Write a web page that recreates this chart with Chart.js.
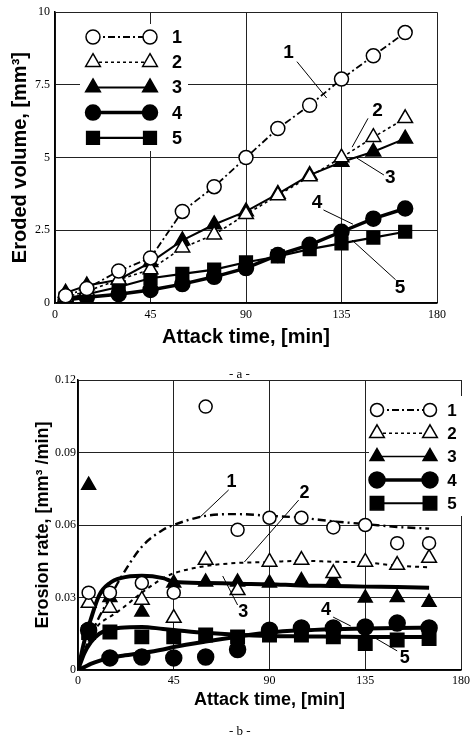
<!DOCTYPE html>
<html>
<head>
<meta charset="UTF-8" />
<title>Erosion - volume and rate</title>
<script src="https://cdn.jsdelivr.net/npm/chart.js"></script>
<style>
  body { margin: 0; background: #fff; width: 474px; height: 738px; position: relative; overflow: hidden; }
  .panel { position: absolute; left: 0; width: 474px; }
  .cap { position: absolute; font-family: "Liberation Serif", serif; font-size: 13px; color: #000; }
</style>
</head>
<body>
<div class="panel" style="top:0;height:368px"><canvas id="volChart" width="474" height="368"></canvas></div>
<div class="panel" style="top:368px;height:370px"><canvas id="rateChart" width="474" height="370"></canvas></div>
<div class="cap" style="left:229px;top:366px">- a -</div>
<div class="cap" style="left:229px;top:723px">- b -</div>

<script>
// --- data ---
const seriesNames = ['1', '2', '3', '4', '5'];
const attackTime = [5, 15, 30, 45, 60, 75, 90, 105, 120, 135, 150, 165];
const timeTicks = [0, 45, 90, 135, 180];
const volumeTicks = [0, 2.5, 5, 7.5, 10];
const rateTicks = [0, 0.03, 0.06, 0.09, 0.12];

// (a) eroded volume, mm3
const volume1 = [0.25, 0.5, 1.1, 1.55, 3.15, 4.0, 5.0, 6.0, 6.8, 7.7, 8.5, 9.3];
const volume2 = [0.2, 0.4, 0.8, 1.15, 1.9, 2.35, 3.05, 3.7, 4.35, 5.0, 5.7, 6.35];
const volume3 = [0.35, 0.6, 0.8, 1.4, 2.15, 2.7, 3.15, 3.75, 4.4, 4.85, 5.2, 5.65];
const volume4 = [0.1, 0.2, 0.3, 0.45, 0.65, 0.9, 1.2, 1.65, 2.0, 2.45, 2.9, 3.25];
const volume5 = [0.15, 0.3, 0.55, 0.85, 1.0, 1.15, 1.4, 1.6, 1.85, 2.05, 2.25, 2.45];

// (b) erosion rate, mm3/min (measured points)
const rate1 = [0.032, 0.032, 0.036, 0.032, 0.109, 0.058, 0.063, 0.063, 0.059, 0.06, 0.0525, 0.0525];
const rate2 = [0.0277, 0.0257, 0.029, 0.0215, 0.0455, 0.033, 0.0447, 0.0455, 0.04, 0.0447, 0.0434, 0.0463];
const rate3 = [0.0765, 0.03, 0.024, 0.036, 0.0364, 0.0364, 0.036, 0.037, 0.037, 0.0298, 0.03, 0.028];
const rate4 = [0.0165, 0.005, 0.0054, 0.005, 0.0054, 0.0085, 0.0165, 0.0174, 0.0174, 0.0178, 0.0194, 0.0174];
const rate5 = [0.0155, 0.0157, 0.0137, 0.0137, 0.0145, 0.0137, 0.0145, 0.0145, 0.0137, 0.011, 0.0124, 0.013];

// (b) fitted curves
const fitTime = [0, 3, 6, 10, 15, 20, 30, 40, 45, 60, 75, 90, 105, 120, 135, 150, 165];
const fit1 = [0, 0.007, 0.014, 0.022, 0.03, 0.038, 0.051, 0.058, 0.06, 0.0638, 0.0645, 0.0638, 0.063, 0.0615, 0.0604, 0.0592, 0.0585];
const fit2 = [0, 0.008, 0.014, 0.019, 0.022, 0.025, 0.032, 0.038, 0.04, 0.043, 0.0443, 0.0447, 0.0452, 0.0448, 0.0445, 0.0432, 0.0425];
const fit3 = [0, 0.012, 0.021, 0.031, 0.036, 0.038, 0.039, 0.038, 0.0365, 0.036, 0.0357, 0.0355, 0.035, 0.0348, 0.0345, 0.0343, 0.034];
const fit4 = [0, 0.0012, 0.0025, 0.0038, 0.005, 0.0058, 0.007, 0.0085, 0.0095, 0.0118, 0.0138, 0.0155, 0.0164, 0.0169, 0.0172, 0.0174, 0.0175];
const fit5 = [0, 0.007, 0.0115, 0.015, 0.0168, 0.0175, 0.0178, 0.017, 0.0166, 0.0154, 0.0146, 0.0141, 0.0139, 0.0138, 0.0137, 0.0137, 0.0137];

// --- styles ---
const topMarks = [
  { pointStyle: 'circle', fill: '#fff', r: 7 },
  { pointStyle: 'triangle', fill: '#fff', r: 8.5 },
  { pointStyle: 'triangle', fill: '#000', r: 8.5 },
  { pointStyle: 'circle', fill: '#000', r: 7.5 },
  { pointStyle: 'rect', fill: '#000', r: 9 }
];
const topLines = [
  { w: 1.8, dash: [7, 3, 2, 3] },
  { w: 1.6, dash: [3, 3] },
  { w: 2, dash: [] },
  { w: 3.5, dash: [] },
  { w: 2.2, dash: [] }
];
const botMarks = [
  { pointStyle: 'circle', fill: '#fff', r: 6.5 },
  { pointStyle: 'triangle', fill: '#fff', r: 8.5 },
  { pointStyle: 'triangle', fill: '#000', r: 8 },
  { pointStyle: 'circle', fill: '#000', r: 8 },
  { pointStyle: 'rect', fill: '#000', r: 9.5 }
];
const botLines = [
  { w: 2.4, dash: [8, 4, 2, 4] },
  { w: 2, dash: [4, 4] },
  { w: 4, dash: [] },
  { w: 4, dash: [] },
  { w: 4, dash: [] }
];
const botKeyLines = [
  { w: 1.8, dash: [7, 3, 2, 3] },
  { w: 1.6, dash: [3, 3] },
  { w: 1.5, dash: [] },
  { w: 3.5, dash: [] },
  { w: 2, dash: [] }
];

const tickFont = { family: '"Liberation Serif", serif', size: 12 };
const gridColor = '#222';

function drawMark(ctx, m, x, y) {
  ctx.beginPath();
  if (m.pointStyle === 'circle') {
    ctx.arc(x, y, m.r, 0, 2 * Math.PI);
  } else if (m.pointStyle === 'triangle') {
    ctx.moveTo(x, y - m.r);
    ctx.lineTo(x + m.r * 0.866, y + m.r / 2);
    ctx.lineTo(x - m.r * 0.866, y + m.r / 2);
    ctx.closePath();
  } else {
    const s = m.r * Math.SQRT1_2;
    ctx.rect(x - s, y - s, 2 * s, 2 * s);
  }
  ctx.fillStyle = m.fill;
  ctx.fill();
  ctx.lineWidth = 1.5;
  ctx.strokeStyle = '#000';
  ctx.stroke();
}

// legend drawn inside the plot, marker - line - marker  number
const keyPlugin = {
  id: 'key',
  afterDatasetsDraw(chart, args, o) {
    const ctx = chart.ctx;
    ctx.save();
    ctx.fillStyle = '#fff';
    ctx.fillRect(o.box[0], o.box[1], o.box[2], o.box[3]);
    o.names.forEach((name, i) => {
      const y = o.y0 + i * o.dy;
      ctx.strokeStyle = '#000';
      ctx.lineWidth = o.lines[i].w;
      ctx.setLineDash(o.lines[i].dash);
      ctx.beginPath();
      ctx.moveTo(o.xL, y);
      ctx.lineTo(o.xR, y);
      ctx.stroke();
      ctx.setLineDash([]);
      drawMark(ctx, o.marks[i], o.xL, y);
      drawMark(ctx, o.marks[i], o.xR, y);
      ctx.fillStyle = '#000';
      ctx.font = 'bold ' + o.fontSize + 'px "Liberation Sans", Arial, sans-serif';
      ctx.textAlign = 'center';
      ctx.textBaseline = 'middle';
      ctx.fillText(name, o.xT, y + 1);
    });
    ctx.restore();
  }
};

// curve numbers with leader lines, given in data units
const notePlugin = {
  id: 'notes',
  afterDatasetsDraw(chart, args, o) {
    const ctx = chart.ctx, xs = chart.scales.x, ys = chart.scales.y;
    ctx.save();
    o.items.forEach(n => {
      ctx.strokeStyle = '#000';
      ctx.lineWidth = 1;
      ctx.beginPath();
      ctx.moveTo(xs.getPixelForValue(n.from[0]), ys.getPixelForValue(n.from[1]));
      ctx.lineTo(xs.getPixelForValue(n.to[0]), ys.getPixelForValue(n.to[1]));
      ctx.stroke();
      ctx.fillStyle = '#000';
      ctx.font = 'bold ' + o.fontSize + 'px "Liberation Sans", Arial, sans-serif';
      ctx.textAlign = 'center';
      ctx.textBaseline = 'middle';
      ctx.fillText(n.text, xs.getPixelForValue(n.at[0]), ys.getPixelForValue(n.at[1]));
    });
    ctx.restore();
  }
};

const topNotes = [
  { text: '1', at: [110, 8.6], from: [114, 8.3], to: [128, 7.05] },
  { text: '2', at: [152, 6.6], from: [147.5, 6.35], to: [140, 5.36] },
  { text: '3', at: [158, 4.3], from: [142.3, 4.98], to: [155, 4.4] },
  { text: '4', at: [123.5, 3.44], from: [126.5, 3.2], to: [140.4, 2.71] },
  { text: '5', at: [162.6, 0.52], from: [160.5, 0.8], to: [140, 2.16] }
];
const botNotes = [
  { text: '1', at: [72.2, 0.0778], from: [70.8, 0.0745], to: [57.4, 0.0633] },
  { text: '2', at: [106.4, 0.0732], from: [103.7, 0.0703], to: [78.2, 0.0447] },
  { text: '3', at: [77.7, 0.024], from: [68, 0.0389], to: [75, 0.0269] },
  { text: '4', at: [116.6, 0.0248], from: [119.9, 0.0219], to: [128.2, 0.0182] },
  { text: '5', at: [153.6, 0.005], from: [150, 0.0079], to: [139.7, 0.0132] }
];

function pts(xs, ys) {
  return xs.map((x, i) => ({ x: x, y: ys[i] }));
}

function axes(o) {
  return {
    x: {
      type: 'linear', min: 0, max: 180,
      afterBuildTicks: s => { s.ticks = timeTicks.map(v => ({ value: v })); },
      afterFit: s => { s.height = o.xh; },
      grid: { color: gridColor, lineWidth: 1, drawTicks: false },
      border: { color: '#000', width: 1.5 },
      ticks: { font: tickFont, color: '#000', padding: o.xpad, maxRotation: 0 },
      title: {
        display: true, text: 'Attack time, [min]', color: '#000',
        font: { family: '"Liberation Sans", Arial, sans-serif', size: o.titleSize, weight: 'bold' },
        padding: { top: 0, bottom: o.xtitlePad }
      }
    },
    y: {
      min: 0, max: o.ymax,
      afterBuildTicks: s => { s.ticks = o.yticks.map(v => ({ value: v })); },
      afterFit: s => { s.width = o.yw; },
      grid: { color: gridColor, lineWidth: 1, drawTicks: false },
      border: { color: '#000', width: 1.5 },
      ticks: { font: tickFont, color: '#000', padding: o.ypad, callback: v => String(v) },
      title: {
        display: true, text: o.ytitle, color: '#000',
        font: { family: '"Liberation Sans", Arial, sans-serif', size: o.titleSize, weight: 'bold' },
        padding: { top: o.ytitlePad, bottom: 0 }
      }
    }
  };
}

// --- (a) eroded volume ---
const volumes = [volume1, volume2, volume3, volume4, volume5];
new Chart(document.getElementById('volChart'), {
  type: 'line',
  data: {
    datasets: volumes.map((v, i) => ({
      label: seriesNames[i],
      data: pts(attackTime, v),
      borderColor: '#000',
      borderWidth: topLines[i].w,
      borderDash: topLines[i].dash,
      pointStyle: topMarks[i].pointStyle,
      pointRadius: topMarks[i].r,
      pointBackgroundColor: topMarks[i].fill,
      pointBorderColor: '#000',
      pointBorderWidth: 1.5,
      tension: 0,
      fill: false
    }))
  },
  options: {
    responsive: false,
    animation: false,
    layout: { padding: { top: 12, right: 37, left: 0, bottom: 0 } },
    scales: axes({ xh: 65, yw: 55, xpad: 5, ypad: 5, ymax: 10, yticks: volumeTicks,
                   titleSize: 20, xtitlePad: 19, ytitlePad: 8, ytitle: 'Eroded volume, [mm³]' }),
    plugins: {
      legend: { display: false },
      tooltip: { enabled: false },
      key: { names: seriesNames, marks: topMarks, lines: topLines, box: [80, 24, 108, 127],
             xL: 93, xR: 150, xT: 177, y0: 37, dy: 25.2, fontSize: 18 },
      notes: { items: topNotes, fontSize: 19 }
    }
  },
  plugins: [keyPlugin, notePlugin]
});

// --- (b) erosion rate ---
const rates = [rate1, rate2, rate3, rate4, rate5];
const fits = [fit1, fit2, fit3, fit4, fit5];
const markerSets = rates.map((r, i) => ({
  label: seriesNames[i],
  data: pts(attackTime, r),
  showLine: false,
  order: 0,
  pointStyle: botMarks[i].pointStyle,
  pointRadius: botMarks[i].r,
  pointBackgroundColor: botMarks[i].fill,
  pointBorderColor: '#000',
  pointBorderWidth: 1.5
}));
const curveSets = fits.map((f, i) => ({
  label: 'fit ' + seriesNames[i],
  data: pts(fitTime, f),
  order: 1,
  borderColor: '#000',
  borderWidth: botLines[i].w,
  borderDash: botLines[i].dash,
  pointRadius: 0,
  cubicInterpolationMode: 'monotone',
  fill: false
}));
new Chart(document.getElementById('rateChart'), {
  type: 'line',
  data: { datasets: markerSets.concat(curveSets) },
  options: {
    responsive: false,
    animation: false,
    layout: { padding: { top: 12, right: 7, left: 0, bottom: 0 } },
    scales: axes({ xh: 68, yw: 78, xpad: 4, ypad: 2, ymax: 0.12, yticks: rateTicks,
                   titleSize: 18, xtitlePad: 27, ytitlePad: 32, ytitle: 'Erosion rate, [mm³ /min]' }),
    plugins: {
      legend: { display: false },
      tooltip: { enabled: false },
      key: { names: seriesNames, marks: botMarks, lines: botKeyLines, box: [369, 28, 96, 120],
             xL: 377, xR: 430, xT: 452, y0: 42, dy: 23.3, fontSize: 17 },
      notes: { items: botNotes, fontSize: 18 }
    }
  },
  plugins: [keyPlugin, notePlugin]
});
</script>
</body>
</html>
